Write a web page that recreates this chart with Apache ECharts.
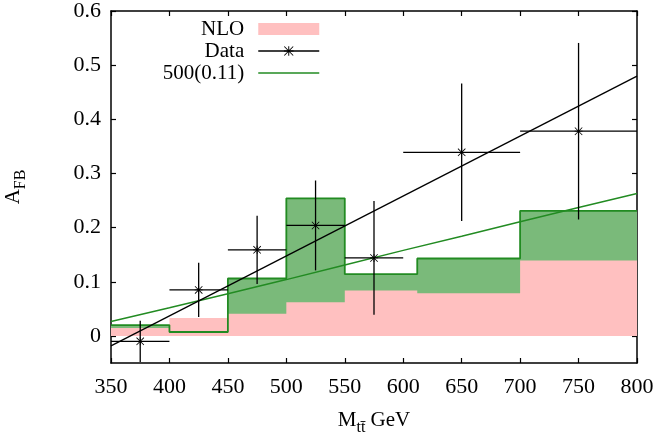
<!DOCTYPE html>
<html>
<head>
<meta charset="utf-8">
<script src="https://cdn.jsdelivr.net/npm/echarts@6/dist/echarts.min.js"></script>
<style>
  html, body { margin: 0; padding: 0; background: #fff; }
  #chart { width: 657px; height: 436px; }
</style>
</head>
<body>
<div id="chart"></div>
<script>
// ---- data ----
const binEdges   = [350, 400, 450, 500, 550, 612, 700, 800];
const nloValues  = [0.0145, 0.033, 0.041, 0.062, 0.084, 0.079, 0.1395];
const bandValues = [0.020, 0.0072, 0.106, 0.254, 0.114, 0.143, 0.231];

const dataX     = [375, 425, 475, 525, 575, 650, 750];
const dataY     = [-0.01, 0.085, 0.159, 0.204, 0.144, 0.339, 0.378];
const dataXLow  = [350, 400, 450, 500, 550, 600, 700];
const dataXHigh = [400, 450, 500, 550, 600, 700, 800];
const dataYErr  = [0.038, 0.05, 0.063, 0.083, 0.105, 0.127, 0.163];

const modelX = [350, 400, 450, 500, 550, 600, 650, 700, 750, 800];
const modelY = [0.0265, 0.052, 0.078, 0.104, 0.131, 0.158, 0.184, 0.211, 0.237, 0.263];

const fitX = [350, 800];
const fitY = [-0.0185, 0.4796];

const xTicks = [350, 400, 450, 500, 550, 600, 650, 700, 750, 800];
const yTicks = [0, 0.1, 0.2, 0.3, 0.4, 0.5, 0.6];

// ---- build series data ----
function steps(edges, vals) {
  const out = [];
  for (let i = 0; i < vals.length; i++) {
    out.push([edges[i], vals[i]]);
    out.push([edges[i + 1], vals[i]]);
  }
  return out;
}
const FONT = 'Liberation Serif';
const PINK = '#ffc0c0';
const GREEN = '#228b22';
const GREEN_FILL = '#7aba7a';

const errData = dataX.map((x, i) => [x, dataY[i], dataXLow[i], dataXHigh[i], dataYErr[i]]);
const pointData = dataX.map((x, i) => [x, dataY[i]]);
const modelData = modelX.map((x, i) => [x, modelY[i]]);
const fitData = fitX.map((x, i) => [x, fitY[i]]);

const STAR = 'path://M4.5 0h1v10h-1zM0 4.5h10v1h-10zM0.7 0L10 9.3L9.3 10L0 0.7ZM9.3 0L10 0.7L0.7 10L0 9.3Z';

const axisLineStyle = { color: '#000', width: 1.5 };
const tickStyle = { color: '#000', width: 1.2 };
const labelStyle = { fontFamily: FONT, fontSize: 22, color: '#000', fontWeight: 'normal' };

const chart = echarts.init(document.getElementById('chart'), null, { renderer: 'canvas' });
chart.setOption({
  animation: false,
  backgroundColor: '#fff',
  textStyle: { fontFamily: FONT, fontSize: 21, color: '#000' },
  grid: { left: 111, right: 20, top: 11, bottom: 73, containLabel: false, outerBoundsMode: 'none' },
  legend: {
    orient: 'vertical',
    align: 'right',
    right: 337,
    top: 18.5,
    padding: 0,
    itemWidth: 61,
    itemHeight: 12,
    itemGap: 1,
    selectedMode: false,
    textStyle: { fontFamily: FONT, fontSize: 21, color: '#000', padding: [0, 9, 0, 0] },
    data: [
      { name: 'NLO', icon: 'rect', itemStyle: { color: PINK, opacity: 1 } },
      { name: 'Data', lineStyle: { color: '#000', width: 1.3, opacity: 1 }, itemStyle: { color: '#000', opacity: 1 } },
      { name: '500(0.11)', lineStyle: { color: GREEN, width: 1.5, opacity: 1 }, itemStyle: { opacity: 0 } }
    ]
  },
  xAxis: [{
    type: 'value', position: 'bottom', min: 350, max: 800, interval: 50,
    name: '{m|M}{s|tt\u0304}{m| GeV}',
    nameLocation: 'middle', nameGap: 47,
    nameTextStyle: {
      fontFamily: FONT, fontSize: 21, color: '#000',
      rich: {
        m: { fontFamily: FONT, fontSize: 21, color: '#000', verticalAlign: 'bottom', padding: [0, 0, 5, 0] },
        s: { fontFamily: FONT, fontSize: 16, color: '#000', verticalAlign: 'bottom' }
      }
    },
    axisLine: { show: true, onZero: false, lineStyle: axisLineStyle },
    axisTick: { show: true, inside: true, length: 5, lineStyle: tickStyle },
    axisLabel: Object.assign({ margin: 13 }, labelStyle),
    splitLine: { show: false }
  }, {
    type: 'value', position: 'top', min: 350, max: 800, interval: 50,
    axisLine: { show: true, onZero: false, lineStyle: axisLineStyle },
    axisTick: { show: true, inside: true, length: 5, lineStyle: tickStyle },
    axisLabel: { show: false },
    splitLine: { show: false }
  }],
  yAxis: [{
    type: 'value', position: 'left', min: -0.05, max: 0.6,
    name: '{a|A}{s|FB}',
    nameLocation: 'middle', nameGap: 82, nameRotate: 90,
    nameTextStyle: {
      fontFamily: FONT, fontSize: 21, color: '#000',
      rich: {
        a: { fontFamily: FONT, fontSize: 21, color: '#000', verticalAlign: 'bottom', padding: [0, 0, 5, 0] },
        s: { fontFamily: FONT, fontSize: 16, color: '#000', verticalAlign: 'bottom' }
      }
    },
    axisLine: { show: true, onZero: false, lineStyle: axisLineStyle },
    axisTick: { show: true, inside: true, length: 5, lineStyle: tickStyle, customValues: yTicks },
    axisLabel: Object.assign({
      margin: 10, customValues: yTicks,
      formatter: v => (Math.abs(v) < 1e-9 ? '0' : v.toFixed(1))
    }, labelStyle),
    splitLine: { show: false }
  }, {
    type: 'value', position: 'right', min: -0.05, max: 0.6,
    axisLine: { show: true, onZero: false, lineStyle: axisLineStyle },
    axisTick: { show: true, inside: true, length: 5, lineStyle: tickStyle, customValues: yTicks },
    axisLabel: { show: false, customValues: yTicks },
    splitLine: { show: false }
  }],
  series: [
    {
      name: 'band', type: 'line', data: steps(binEdges, bandValues), z: 1,
      symbol: 'none', lineStyle: { width: 0, opacity: 0 },
      areaStyle: { color: GREEN_FILL, opacity: 1 }, itemStyle: { color: GREEN_FILL }, silent: true
    },
    {
      name: 'NLO', type: 'line', data: steps(binEdges, nloValues), z: 2,
      symbol: 'none', lineStyle: { width: 0, opacity: 0 },
      areaStyle: { color: PINK, opacity: 1 }, itemStyle: { color: PINK }, silent: true
    },
    {
      name: 'bandOutline', type: 'line', data: steps(binEdges, bandValues), z: 3,
      symbol: 'none', lineStyle: { width: 1.8, color: GREEN }, itemStyle: { color: GREEN }, silent: true
    },
    {
      name: '500(0.11)', type: 'line', data: modelData, smooth: false, z: 4,
      symbol: 'none', lineStyle: { width: 1.5, color: GREEN }, itemStyle: { color: GREEN }, silent: true
    },
    {
      name: 'fit', type: 'line', data: fitData, z: 5,
      symbol: 'none', lineStyle: { width: 1.3, color: '#000' }, itemStyle: { color: '#000' }, silent: true
    },
    {
      name: 'errors', type: 'custom', data: errData, clip: true, silent: true, z: 6,
      encode: { x: 0, y: 1 },
      renderItem: function (params, api) {
        const x = api.value(0), y = api.value(1), xl = api.value(2), xh = api.value(3), e = api.value(4);
        const pL = api.coord([xl, y]), pR = api.coord([xh, y]);
        const pT = api.coord([x, y + e]), pB = api.coord([x, y - e]);
        const st = { stroke: '#000', lineWidth: 1.3, fill: null };
        return {
          type: 'group',
          children: [
            { type: 'line', shape: { x1: pL[0], y1: pL[1], x2: pR[0], y2: pR[1] }, style: st, z2: 10 },
            { type: 'line', shape: { x1: pT[0], y1: pT[1], x2: pB[0], y2: pB[1] }, style: st, z2: 10 }
          ]
        };
      }
    },
    {
      name: 'Data', type: 'line', data: pointData, z: 7,
      symbol: STAR, symbolSize: 8, showSymbol: true,
      lineStyle: { opacity: 0, width: 0, color: '#000' }, itemStyle: { color: '#000' }, silent: true
    }
  ]
});
</script>
</body>
</html>
